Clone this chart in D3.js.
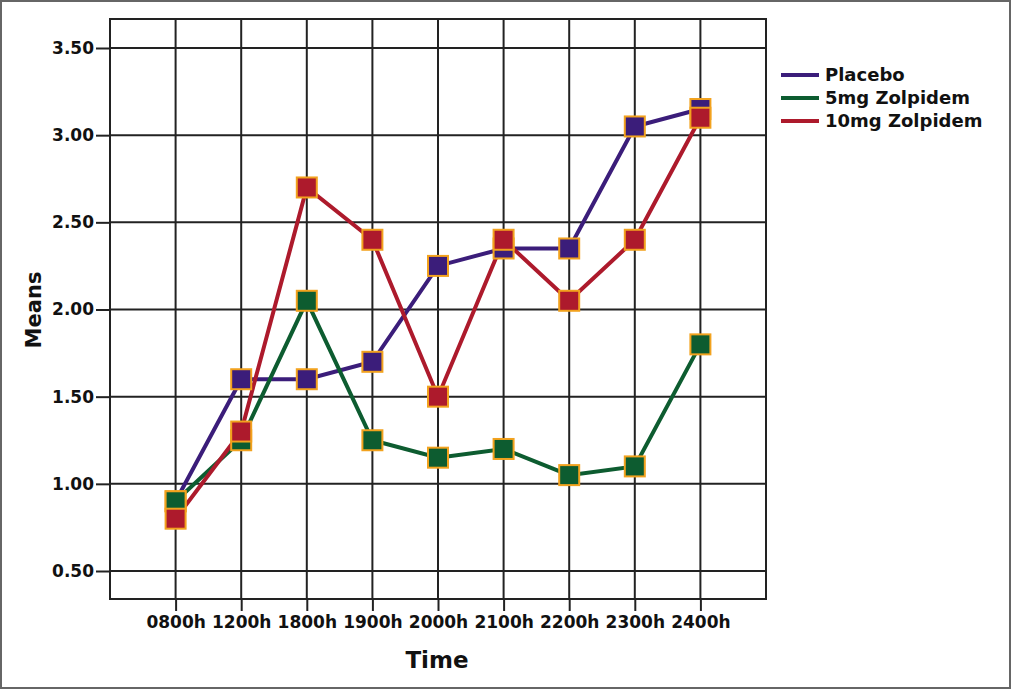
<!DOCTYPE html>
<html>
<head>
<meta charset="utf-8">
<script src="https://cdn.jsdelivr.net/npm/d3@7"></script>
<style>
  html, body { margin: 0; padding: 0; background: #fff; }
  svg { display: block; }
  text { font-family: "DejaVu Sans", Arial, sans-serif; font-weight: bold; fill: #111; }
</style>
</head>
<body>
<svg id="chart" width="1011" height="689"></svg>
<script>
const categories = ["0800h", "1200h", "1800h", "1900h", "2000h", "2100h", "2200h", "2300h", "2400h"];
const seriesNames = ["Placebo", "5mg Zolpidem", "10mg Zolpidem"];
const placebo = [0.90, 1.60, 1.60, 1.70, 2.25, 2.35, 2.35, 3.05, 3.15];
const zolpidem5 = [0.90, 1.25, 2.05, 1.25, 1.15, 1.20, 1.05, 1.10, 1.80];
const zolpidem10 = [0.80, 1.30, 2.70, 2.40, 1.50, 2.40, 2.05, 2.40, 3.10];
const yTicks = [0.5, 1.0, 1.5, 2.0, 2.5, 3.0, 3.5];
const colors = ["#3b1d7a", "#0d5c30", "#ad1a2c"];

const seriesValues = [placebo, zolpidem5, zolpidem10];
const series = seriesNames.map((name, i) => ({ name, color: colors[i], values: seriesValues[i] }));

const FONT = "'DejaVu Sans', Arial, sans-serif";
const svg = d3.select("#chart");
const W = 1011, H = 689;

// outer frame
svg.append("rect").attr("x", 1).attr("y", 1).attr("width", W - 2).attr("height", H - 2)
  .attr("fill", "#fff").attr("stroke", "#666").attr("stroke-width", 2);

const plot = { left: 110, top: 19, right: 766, bottom: 599 };

const x = d3.scalePoint().domain(categories).range([plot.left, plot.right]).padding(1);
const y = d3.scaleLinear().domain([0.5, 3.5]).range([571, 48]);

const g = svg.append("g");

// grid lines
g.selectAll("line.hgrid").data(yTicks).enter().append("line")
  .attr("x1", plot.left).attr("x2", plot.right)
  .attr("y1", d => y(d)).attr("y2", d => y(d))
  .attr("stroke", "#222").attr("stroke-width", 2);
g.selectAll("line.vgrid").data(categories).enter().append("line")
  .attr("x1", d => x(d)).attr("x2", d => x(d))
  .attr("y1", plot.top).attr("y2", plot.bottom)
  .attr("stroke", "#222").attr("stroke-width", 2);

// frame of plot
g.append("rect").attr("x", plot.left).attr("y", plot.top)
  .attr("width", plot.right - plot.left).attr("height", plot.bottom - plot.top)
  .attr("fill", "none").attr("stroke", "#222").attr("stroke-width", 2);

// axes
const yAxis = d3.axisLeft(y).tickValues(yTicks).tickFormat(d3.format(".2f")).tickSize(14).tickPadding(2);
const yG = svg.append("g").attr("transform", `translate(${plot.left},0)`).call(yAxis);
yG.select(".domain").remove();
yG.selectAll(".tick line").attr("stroke", "#222").attr("stroke-width", 2);
yG.selectAll(".tick text").attr("font-size", 17).attr("font-family", FONT)
  .attr("font-weight", "bold").attr("fill", "#111");

const xAxis = d3.axisBottom(x).tickSize(12).tickPadding(5);
const xG = svg.append("g").attr("transform", `translate(0,${plot.bottom})`).call(xAxis);
xG.select(".domain").remove();
xG.selectAll(".tick line").attr("stroke", "#222").attr("stroke-width", 2);
xG.selectAll(".tick text").attr("font-size", 17).attr("font-family", FONT)
  .attr("font-weight", "bold").attr("fill", "#111");

// axis titles
svg.append("text").attr("x", 437).attr("y", 668)
  .attr("text-anchor", "middle").attr("font-size", 23).text("Time");
svg.append("text").attr("transform", `translate(41,310) rotate(-90)`)
  .attr("text-anchor", "middle").attr("font-size", 21).text("Means");

// lines
const line = d3.line().x((d, i) => x(categories[i])).y(d => y(d));
series.forEach(s => {
  svg.append("path").datum(s.values).attr("d", line)
    .attr("fill", "none").attr("stroke", s.color).attr("stroke-width", 4);
});
// markers
const ms = 20;
series.forEach(s => {
  svg.append("g").selectAll("rect").data(s.values).enter().append("rect")
    .attr("x", (d, i) => x(categories[i]) - ms / 2)
    .attr("y", d => y(d) - ms / 2)
    .attr("width", ms).attr("height", ms)
    .attr("fill", s.color).attr("stroke", "#f2a21e").attr("stroke-width", 2);
});

// legend
const lg = svg.append("g").attr("transform", "translate(781,75)");
series.forEach((s, i) => {
  lg.append("line").attr("x1", 0).attr("x2", 38).attr("y1", i * 23).attr("y2", i * 23)
    .attr("stroke", s.color).attr("stroke-width", 4);
  lg.append("text").attr("x", 44).attr("y", i * 23 + 6).attr("font-size", 18).text(s.name);
});
</script>
</body>
</html>
